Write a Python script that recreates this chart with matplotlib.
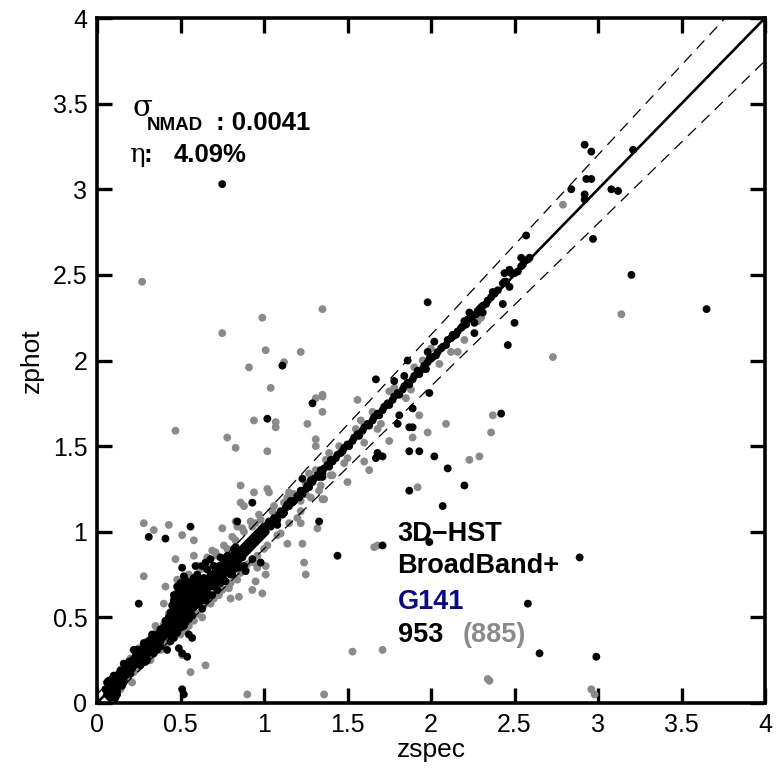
import matplotlib
matplotlib.use("Agg")
import matplotlib.pyplot as plt
import numpy as np

plt.rcParams['font.family'] = ['Liberation Sans', 'DejaVu Sans']

# ---------------- data ----------------
# black points: zspec, zphot  (sample with photometry + G141 grism)
black_zspec = [
    # outliers / upper part
    0.75, 2.92, 2.96, 2.93, 2.96, 2.84, 3.08, 3.12, 2.92, 2.92, 3.21, 2.57, 2.97, 2.54, 2.59, 2.54,
    2.47, 2.48, 2.44, 2.43, 2.44, 2.47, 2.37, 2.36, 3.20, 3.65, 2.43, 2.31, 2.29, 2.23, 2.20, 2.22,
    2.26, 2.26, 2.50, 2.46, 2.13, 1.98, 2.02, 1.98, 1.99, 1.86, 1.67, 1.78, 1.99, 1.29, 1.89, 1.81,
    1.80, 1.87, 1.89, 2.42, 1.02, 1.87, 1.93, 1.68, 1.67, 1.71, 2.02, 2.10, 2.20, 1.87, 1.23, 2.07,
    1.71, 1.99, 2.89, 2.58, 2.65, 2.99, 1.44, 1.33, 1.35, 1.11, 0.93, 0.56, 0.51, 0.59, 0.63, 0.65,
    0.68, 0.84, 0.31, 0.41, 0.25, 0.54, 0.51, 0.52, 1.08, 0.98, 0.93, 0.87, 0.89,
    # diagonal band
    0.06, 0.07, 0.08, 0.09, 0.10, 0.10, 0.11, 0.12, 0.12, 0.13, 0.14, 0.15, 0.16, 0.17, 0.18, 0.19,
    0.20, 0.21, 0.22, 0.23, 0.24, 0.25, 0.26, 0.27, 0.28, 0.29, 0.30, 0.31, 0.32, 0.33, 0.34, 0.35,
    0.36, 0.37, 0.38, 0.39, 0.40, 0.41, 0.42, 0.42, 0.43, 0.44, 0.44, 0.45, 0.45, 0.46, 0.46, 0.47,
    0.47, 0.48, 0.48, 0.49, 0.49, 0.50, 0.50, 0.51, 0.51, 0.52, 0.52, 0.53, 0.53, 0.54, 0.54, 0.55,
    0.55, 0.56, 0.56, 0.57, 0.58, 0.58, 0.59, 0.60, 0.60, 0.61, 0.62, 0.63, 0.64, 0.65, 0.66, 0.67,
    0.68, 0.69, 0.70, 0.71, 0.72, 0.73, 0.74, 0.75, 0.76, 0.77, 0.78, 0.79, 0.80, 0.81, 0.82, 0.83,
    0.84, 0.85, 0.86, 0.87, 0.88, 0.89, 0.90, 0.91, 0.92, 0.93, 0.94, 0.95, 0.96, 0.97, 0.98, 0.99,
    1.00, 1.02, 1.04, 1.06, 1.08, 1.10, 1.12, 1.14, 1.17, 1.20, 1.23, 1.26, 1.29, 1.32, 1.35, 1.38,
    1.41, 1.44, 1.47, 1.50, 1.53, 1.56, 1.59, 1.62, 1.65, 1.68, 1.71, 1.74, 1.77, 1.80, 1.83, 1.84,
    1.86, 1.89, 1.92, 1.95, 1.98, 2.01, 2.04, 2.07, 2.10, 2.13, 2.16, 2.19, 2.25, 2.28, 2.31, 2.34,
    2.40, 2.50, 2.55, 2.58,
    # extra band scatter
    0.44, 0.46, 0.48, 0.50, 0.52, 0.53, 0.55, 0.57, 0.58, 0.56, 0.54, 0.52, 0.50, 0.48, 0.46, 0.60,
    0.62, 0.63, 0.65, 0.66, 0.69, 0.70, 0.72, 0.74, 0.77, 0.80, 0.82, 0.85, 0.88, 0.57, 0.55, 0.49,
    0.51, 0.42, 0.40, 0.22, 0.26, 0.16, 0.20,
    # dense band, second pass
    0.05, 0.06, 0.07, 0.08, 0.09, 0.10, 0.11, 0.12, 0.13, 0.14, 0.08, 0.11,
    0.16, 0.17, 0.18, 0.19, 0.20, 0.21, 0.22, 0.23, 0.24, 0.25, 0.26, 0.27, 0.28, 0.29,
    0.30, 0.31, 0.32, 0.33, 0.34, 0.35, 0.36, 0.37, 0.38, 0.39, 0.40, 0.41, 0.41, 0.42, 0.43, 0.43,
    0.44, 0.44,
    0.45, 0.45, 0.46, 0.46, 0.47, 0.47, 0.48, 0.48, 0.49, 0.49, 0.50, 0.50, 0.50, 0.51, 0.51, 0.51,
    0.52, 0.52, 0.52, 0.53, 0.53, 0.53, 0.54, 0.54, 0.55, 0.55, 0.56, 0.56, 0.57, 0.57, 0.58, 0.58,
    0.59, 0.59, 0.60, 0.60,
    0.61, 0.61, 0.62, 0.63, 0.63, 0.64, 0.64, 0.65, 0.66, 0.66, 0.67, 0.68, 0.69, 0.70, 0.71, 0.71,
    0.72, 0.73, 0.74, 0.75, 0.75,
    0.76, 0.77, 0.78, 0.79, 0.79, 0.80, 0.81, 0.82, 0.83, 0.84, 0.85, 0.86, 0.87, 0.88, 0.89, 0.90,
    0.91, 0.92, 0.93, 0.94, 0.95, 0.96, 0.97, 0.98, 0.99, 1.00, 1.01, 1.03, 1.05,
    1.07, 1.09, 1.11, 1.13, 1.15, 1.16, 1.18, 1.21, 1.22, 1.25, 1.27, 1.28, 1.30, 1.33, 1.34, 1.36,
    1.39, 1.40, 1.43, 1.46, 1.48, 1.51, 1.54, 1.57, 1.60, 1.63, 1.66, 1.69, 1.72, 1.75, 1.78, 1.81,
    1.84, 1.87, 1.90, 1.93, 1.96, 1.97, 2.00, 2.03, 2.06, 2.09, 2.12, 2.15, 2.18, 2.21, 2.24, 2.27,
    2.30, 2.33, 2.38, 2.45, 2.52, 2.56,
    # lower-left blob and thick low-z section
    0.07, 0.09, 0.10, 0.12, 0.13, 0.15, 0.09, 0.14, 0.11, 0.16,
    0.24, 0.26, 0.28, 0.30, 0.32, 0.34, 0.29, 0.33, 0.36, 0.38,
    0.73, 0.76, 0.78, 0.81, 0.83, 0.86,
]
black_zphot = [
    3.03, 3.26, 3.22, 3.06, 3.06, 3.00, 3.00, 2.99, 2.97, 2.94, 3.23, 2.73, 2.71, 2.60, 2.60, 2.55,
    2.53, 2.51, 2.51, 2.45, 2.46, 2.43, 2.40, 2.37, 2.50, 2.30, 2.33, 2.28, 2.30, 2.28, 2.23, 2.24,
    2.22, 2.16, 2.22, 2.09, 2.15, 2.34, 2.11, 2.05, 2.01, 2.00, 1.89, 1.88, 1.81, 1.75, 1.72, 1.68,
    1.63, 1.61, 1.61, 1.69, 1.66, 1.47, 1.47, 1.46, 1.43, 1.44, 1.44, 1.37, 1.27, 1.24, 1.31, 1.15,
    0.92, 0.94, 0.85, 0.58, 0.29, 0.27, 0.86, 1.06, 1.32, 1.97, 1.17, 1.03, 0.79, 0.80, 0.80, 0.82,
    0.84, 1.06, 0.97, 0.96, 0.58, 0.27, 0.08, 0.05, 1.04, 0.82, 0.84, 0.85, 0.77,
    0.05, 0.09, 0.06, 0.11, 0.08, 0.13, 0.10, 0.07, 0.12, 0.15, 0.11, 0.14, 0.18, 0.16, 0.21, 0.19,
    0.23, 0.20, 0.25, 0.27, 0.24, 0.28, 0.26, 0.30, 0.29, 0.27, 0.31, 0.33, 0.30, 0.35, 0.33, 0.37,
    0.35, 0.38, 0.36, 0.41, 0.39, 0.43, 0.40, 0.46, 0.44, 0.48, 0.42, 0.47, 0.52, 0.45, 0.55, 0.50,
    0.58, 0.53, 0.47, 0.56, 0.61, 0.51, 0.58, 0.54, 0.63, 0.49, 0.57, 0.60, 0.66, 0.52, 0.55, 0.62,
    0.58, 0.65, 0.53, 0.60, 0.56, 0.68, 0.62, 0.58, 0.65, 0.70, 0.63, 0.60, 0.67, 0.72, 0.66, 0.69,
    0.75, 0.71, 0.68, 0.73, 0.78, 0.74, 0.70, 0.77, 0.80, 0.76, 0.82, 0.79, 0.84, 0.81, 0.78, 0.86,
    0.83, 0.88, 0.85, 0.90, 0.87, 0.92, 0.89, 0.94, 0.91, 0.96, 0.93, 0.98, 0.95, 1.00, 0.97, 1.02,
    0.99, 1.04, 1.03, 1.08, 1.07, 1.12, 1.11, 1.16, 1.17, 1.21, 1.22, 1.27, 1.29, 1.33, 1.34, 1.39,
    1.41, 1.45, 1.47, 1.51, 1.53, 1.57, 1.59, 1.63, 1.65, 1.69, 1.71, 1.75, 1.77, 1.81, 1.83, 1.91,
    1.87, 1.89, 1.94, 1.95, 1.99, 2.02, 2.05, 2.08, 2.12, 2.14, 2.17, 2.20, 2.26, 2.29, 2.32, 2.35,
    2.41, 2.51, 2.56, 2.59,
    0.36, 0.38, 0.41, 0.44, 0.45, 0.47, 0.49, 0.51, 0.73, 0.70, 0.68, 0.70, 0.66, 0.64, 0.60, 0.75,
    0.72, 0.55, 0.60, 0.78, 0.63, 0.80, 0.66, 0.85, 0.71, 0.75, 0.90, 0.79, 0.80, 0.38, 0.40, 0.32,
    0.29, 0.31, 0.39, 0.31, 0.29, 0.23, 0.19,
    0.08, 0.12, 0.04, 0.10, 0.07, 0.05, 0.14, 0.09, 0.11, 0.16, 0.03, 0.06,
    0.13, 0.20, 0.17, 0.24, 0.17, 0.25, 0.22, 0.30, 0.28, 0.25, 0.31, 0.27, 0.33, 0.30,
    0.28, 0.36, 0.34, 0.31, 0.38, 0.34, 0.40, 0.35, 0.43, 0.38, 0.44, 0.40, 0.48, 0.44, 0.50, 0.40,
    0.53, 0.45,
    0.43, 0.57, 0.50, 0.63, 0.45, 0.55, 0.60, 0.68, 0.50, 0.66, 0.55, 0.62, 0.70, 0.47, 0.58, 0.66,
    0.53, 0.62, 0.74, 0.50, 0.56, 0.63, 0.60, 0.71, 0.53, 0.66, 0.57, 0.62, 0.55, 0.67, 0.60, 0.63,
    0.57, 0.70, 0.61, 0.68,
    0.64, 0.58, 0.67, 0.64, 0.70, 0.62, 0.73, 0.66, 0.70, 0.62, 0.72, 0.68, 0.75, 0.72, 0.69, 0.77,
    0.74, 0.79, 0.76, 0.73, 0.81,
    0.78, 0.83, 0.79, 0.76, 0.84, 0.80, 0.86, 0.83, 0.80, 0.87, 0.84, 0.89, 0.86, 0.91, 0.88, 0.93,
    0.90, 0.95, 0.92, 0.97, 0.94, 0.99, 0.96, 1.01, 0.98, 1.03, 1.00, 1.06, 1.05,
    1.06, 1.10, 1.10, 1.14, 1.15, 1.18, 1.18, 1.20, 1.24, 1.25, 1.26, 1.30, 1.31, 1.32, 1.36, 1.37,
    1.38, 1.42, 1.43, 1.46, 1.49, 1.50, 1.55, 1.56, 1.61, 1.62, 1.67, 1.68, 1.73, 1.74, 1.79, 1.80,
    1.85, 1.86, 1.91, 1.92, 1.97, 1.95, 2.01, 2.03, 2.07, 2.09, 2.13, 2.15, 2.19, 2.21, 2.25, 2.27,
    2.31, 2.33, 2.39, 2.46, 2.52, 2.58,
    0.13, 0.04, 0.16, 0.05, 0.17, 0.10, 0.14, 0.19, 0.03, 0.12,
    0.31, 0.22, 0.35, 0.25, 0.37, 0.29, 0.24, 0.40, 0.31, 0.33,
    0.80, 0.72, 0.86, 0.75, 0.91, 0.80,
]

# grey points: zspec, zphot  (photometry-only sample)
grey_zspec = [
    2.79, 3.14, 2.28, 2.20, 1.35, 0.99, 1.01, 1.22, 0.91, 1.12, 1.04, 2.16, 1.90, 1.56, 1.31, 1.35,
    1.35, 1.35, 1.93, 1.98, 1.89, 1.75, 2.09, 2.37, 2.36, 0.94, 1.07, 1.07, 1.26, 1.31, 1.31, 0.83,
    1.02, 2.29, 2.23, 1.60, 1.63, 1.50, 1.92, 0.86, 0.94, 1.02, 1.03, 1.71, 2.34, 1.68, 1.53, 2.96,
    0.90, 1.36, 2.35, 2.98, 1.15, 1.22, 1.25, 1.35, 1.22, 1.32, 1.14, 1.23, 1.66, 1.25, 0.47, 0.78,
    0.86, 0.88, 0.75, 0.51, 0.58, 0.47, 0.69, 0.83, 0.84, 0.95, 1.24, 1.36, 1.41, 0.28, 0.34, 0.43,
    0.58, 0.28, 0.41, 0.40, 0.51, 0.65, 0.56, 0.21, 0.18, 0.80, 0.85, 0.93, 0.99, 0.95, 1.01, 1.01,
    0.85, 0.96, 0.27, 0.75, 2.73,
    # band
    0.08, 0.12, 0.15, 0.18, 0.22, 0.25, 0.28, 0.30, 0.33, 0.36, 0.38, 0.40, 0.42, 0.45, 0.47, 0.50,
    0.52, 0.55, 0.57, 0.60, 0.62, 0.64, 0.67, 0.70, 0.72, 0.75, 0.78, 0.80, 0.83, 0.86, 0.88, 0.90,
    0.93, 0.96, 0.98, 1.00, 1.05, 1.08, 1.12, 1.15, 1.18, 1.22, 1.25, 1.28, 1.31, 1.34, 1.37, 1.40,
    1.45, 1.50, 1.55, 1.60, 1.65, 1.70, 1.78, 1.85, 1.95, 2.05, 2.30,
    0.10, 0.14, 0.20, 0.24, 0.29, 0.32, 0.35, 0.39, 0.43, 0.46, 0.48, 0.53, 0.55, 0.58, 0.61, 0.63,
    0.66, 0.68, 0.71, 0.73, 0.76, 0.79, 0.81, 0.84, 0.87, 0.89, 0.92, 0.94, 0.97, 1.02, 1.06, 1.10,
    1.14, 1.20, 1.27, 1.33, 1.39, 1.48, 1.58, 1.68, 1.75, 1.88, 2.00, 2.12,
]
grey_zphot = [
    2.91, 2.27, 2.23, 2.12, 2.30, 2.25, 2.06, 2.05, 1.96, 1.99, 1.84, 2.05, 1.96, 1.77, 1.78, 1.80,
    1.79, 1.70, 1.68, 1.58, 1.55, 1.53, 1.63, 1.68, 1.58, 1.65, 1.64, 1.61, 1.63, 1.54, 1.50, 1.49,
    1.47, 1.44, 1.42, 1.41, 1.36, 1.29, 1.26, 1.27, 1.23, 1.25, 1.23, 0.31, 0.14, 0.92, 0.30, 0.08,
    0.05, 0.05, 0.13, 0.05, 1.23, 1.18, 1.22, 1.19, 1.05, 1.02, 0.93, 0.93, 0.91, 0.75, 1.59, 1.55,
    1.17, 1.15, 1.02, 0.98, 0.95, 0.84, 0.89, 1.06, 1.03, 1.05, 0.82, 1.19, 1.33, 1.05, 1.01, 1.04,
    0.86, 0.74, 0.68, 0.58, 0.28, 0.22, 0.18, 0.12, 0.15, 0.61, 0.62, 0.66, 0.64, 0.71, 0.75, 0.80,
    0.89, 0.79, 2.46, 2.16, 2.02,
    0.13, 0.05, 0.20, 0.14, 0.18, 0.32, 0.24, 0.36, 0.28, 0.42, 0.31, 0.46, 0.35, 0.40, 0.63, 0.40,
    0.68, 0.45, 0.72, 0.52, 0.78, 0.57, 0.82, 0.61, 0.86, 0.66, 0.90, 0.70, 0.95, 0.76, 1.00, 0.81,
    1.03, 0.86, 1.07, 0.90, 1.12, 0.98, 1.17, 1.05, 1.22, 1.12, 1.28, 1.20, 1.36, 1.27, 1.42, 1.33,
    1.50, 1.43, 1.60, 1.52, 1.70, 1.63, 1.84, 1.78, 2.00, 1.98, 2.25,
    0.15, 0.08, 0.26, 0.20, 0.35, 0.25, 0.45, 0.33, 0.52, 0.38, 0.72, 0.42, 0.75, 0.48, 0.80, 0.50,
    0.85, 0.58, 0.88, 0.63, 0.92, 0.67, 0.97, 0.72, 1.02, 0.78, 1.06, 0.82, 1.10, 0.92, 1.15, 0.99,
    1.20, 1.08, 1.34, 1.24, 1.46, 1.40, 1.65, 1.60, 1.82, 1.83, 2.07, 2.05,
]

xticks = [0, 0.5, 1, 1.5, 2, 2.5, 3, 3.5, 4]
tick_labels = ["0", "0.5", "1", "1.5", "2", "2.5", "3", "3.5", "4"]
outlier_frac = 0.05
sigma_text = ": 0.0041"
eta_text = "4.09%"
n_black = "953"
n_grey = "(885)"

# ---------------- figure ----------------
fig = plt.figure(figsize=(7.79, 7.70), dpi=100)
ax = fig.add_axes([97/779, 1-703/770, 668/779, 685/770])

grey_col = '#8a8a8a'
ax.scatter(grey_zspec, grey_zphot, s=32, c=grey_col, edgecolors='none', zorder=2)
ax.scatter(black_zspec, black_zphot, s=32, c='black', edgecolors='none', zorder=3)

xx = np.array([0.0, 4.0])
ax.plot(xx, xx, color='black', lw=1.9, zorder=4)
ax.plot(xx, xx + outlier_frac*(1+xx), color='black', lw=0.9, dashes=(9, 6), zorder=4)
ax.plot(xx, xx - outlier_frac*(1+xx), color='black', lw=0.9, dashes=(9, 6), zorder=4)

ax.set_xlim(0, 4)
ax.set_ylim(0, 4)
ax.set_xticks(xticks)
ax.set_yticks(xticks)
ax.set_xticklabels(tick_labels)
ax.set_yticklabels(tick_labels)
ax.tick_params(direction='in', length=11, width=2.4, top=True, right=True,
               labelsize=18, pad=7)
for sp in ax.spines.values():
    sp.set_linewidth(2.6)

ax.set_xlabel('zspec', fontsize=19, labelpad=1)
ax.set_ylabel('zphot', fontsize=19, labelpad=6)

# statistics text (top-left)
ax.text(0.21, 3.43, 'σ', fontsize=21, family=['DejaVu Serif'], va='baseline', ha='left')
ax.text(0.30, 3.345, 'NMAD', fontsize=13.5, fontweight='bold', va='baseline', ha='left')
ax.text(0.71, 3.345, sigma_text, fontsize=18.5, fontweight='bold', va='baseline', ha='left')
ax.text(0.19, 3.16, 'η', fontsize=19, family=['DejaVu Serif'], va='baseline', ha='left')
ax.text(0.28, 3.16, ':', fontsize=18.5, fontweight='bold', va='baseline', ha='left')
ax.text(0.46, 3.16, eta_text, fontsize=18.5, fontweight='bold', va='baseline', ha='left')

# label block
fs_lab = 19.5
ax.text(1.80, 0.947, '3D\u2212HST', fontsize=fs_lab, fontweight='bold', va='baseline', ha='left')
ax.text(1.80, 0.76, 'BroadBand+', fontsize=fs_lab, fontweight='bold', va='baseline', ha='left')
ax.text(1.80, 0.55, 'G141', fontsize=fs_lab, fontweight='bold', color='#0a0a80',
        va='baseline', ha='left')
ax.text(1.80, 0.357, n_black, fontsize=fs_lab, fontweight='bold', va='baseline', ha='left')
ax.text(2.19, 0.357, n_grey, fontsize=fs_lab, fontweight='bold', color=grey_col,
        va='baseline', ha='left')

fig.savefig('out.png', dpi=100)
